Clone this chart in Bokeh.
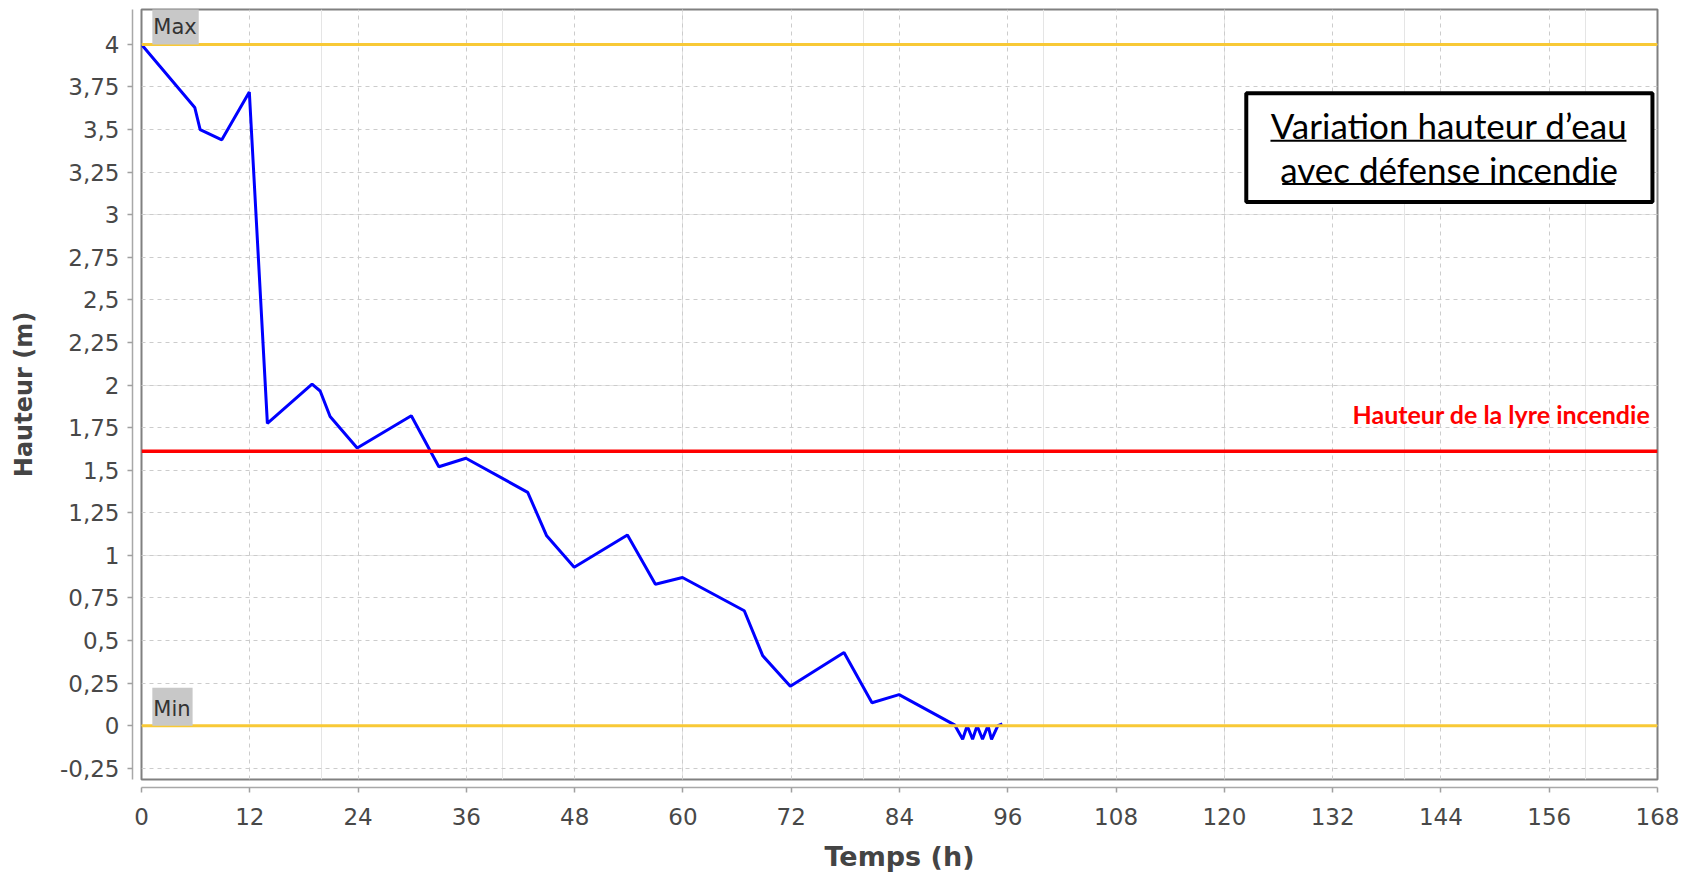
from bokeh.plotting import figure
from bokeh.models import LinearAxis, FixedTicker, Grid, Span, Label, BoxAnnotation
from bokeh.embed import file_html
from bokeh.resources import INLINE

# ---------------- data ----------------
hours = [0, 5.9, 6.5, 8.9, 11.95, 13.95, 18.9, 19.8, 20.9, 23.9, 29.9, 32.95,
         35.95, 42.8, 44.9, 47.95, 53.85, 56.95, 59.95, 66.8, 68.85, 71.9,
         77.85, 80.95, 83.95, 90.1, 91.0, 91.5, 92.1, 92.6, 93.2, 93.8, 94.2,
         94.9, 95.4]
heights = [4.0, 3.63, 3.50, 3.44, 3.72, 1.775, 2.005, 1.965, 1.815, 1.63, 1.82,
           1.52, 1.57, 1.37, 1.115, 0.93, 1.12, 0.83, 0.87, 0.675, 0.41, 0.232,
           0.43, 0.135, 0.182, 0.005, -0.08, 0.0, -0.08, 0.0, -0.08, 0.0, -0.08,
           0.0, 0.01]

x_ticks = [0, 12, 24, 36, 48, 60, 72, 84, 96, 108, 120, 132, 144, 156, 168]
y_ticks = [-0.25, 0.0, 0.25, 0.5, 0.75, 1.0, 1.25, 1.5, 1.75, 2.0, 2.25, 2.5,
           2.75, 3.0, 3.25, 3.5, 3.75, 4.0]
y_tick_labels = ["-0,25", "0", "0,25", "0,5", "0,75", "1", "1,25", "1,5",
                 "1,75", "2", "2,25", "2,5", "2,75", "3", "3,25", "3,5",
                 "3,75", "4"]

max_level = 4.0
min_level = 0.0
lyre_level = 1.612

# ---------------- figure ----------------
p = figure(width=1690, height=874, x_range=(0, 168), y_range=(-0.316, 4.205),
           x_axis_location=None, y_axis_location=None,
           output_backend="svg", toolbar_location=None,
           min_border_left=141, min_border_right=33, min_border_top=9,
           min_border_bottom=93,
           background_fill_color="white", border_fill_color="white",
           outline_line_color="#808080", outline_line_width=2)


def spacer(n, at):
    # invisible axis (one zero-length tick, empty label) that only reserves
    # n pixels between the frame and the real axis line
    return LinearAxis(ticker=FixedTicker(ticks=[at]),
                      major_label_overrides={at: "", f"{at:g}": ""},
                      major_label_text_font_size="1px",
                      major_tick_in=-n, major_tick_out=n,
                      major_tick_line_color="#a0a0a0",
                      axis_line_color=None, minor_tick_line_color=None,
                      major_label_standoff=0)


p.add_layout(spacer(9, 2.0), "left")
p.add_layout(spacer(8, 84), "below")

overrides = {}
for t, s in zip(y_ticks, y_tick_labels):
    overrides[t] = s
    overrides[f"{t:g}"] = s

axis_style = dict(axis_line_color="#a8a8a8", axis_line_width=1.5,
                  major_tick_line_color="#a0a0a0", major_tick_line_width=1.5,
                  major_tick_in=0, major_tick_out=5,
                  minor_tick_line_color=None,
                  major_label_text_font="DejaVu Sans",
                  major_label_text_font_size="23px",
                  major_label_text_color="#484848",
                  axis_label_text_font="DejaVu Sans",
                  axis_label_text_font_style="bold",
                  axis_label_text_color="#444444")

yaxis = LinearAxis(ticker=FixedTicker(ticks=y_ticks),
                   major_label_overrides=overrides,
                   axis_label="Hauteur (m)",
                   axis_label_text_font_size="24px",
                   major_label_standoff=8,
                   axis_label_standoff=19, **axis_style)
p.add_layout(yaxis, "left")

xaxis = LinearAxis(ticker=FixedTicker(ticks=x_ticks),
                   axis_label="Temps (h)",
                   axis_label_text_font_size="27px",
                   major_label_standoff=15,
                   axis_label_standoff=13, **axis_style)
p.add_layout(xaxis, "below")

p.add_layout(Grid(dimension=0, ticker=FixedTicker(ticks=x_ticks),
                  grid_line_color="#cccccc", grid_line_dash="4 4",
                  grid_line_width=1))
p.add_layout(Grid(dimension=1, ticker=FixedTicker(ticks=y_ticks),
                  grid_line_color="#cccccc", grid_line_dash="4 4",
                  grid_line_width=1))

# water level
p.line(hours, heights, line_color="#0000ff", line_width=3)

# reference levels
p.add_layout(Span(location=max_level, dimension="width",
                  line_color="#f8c936", line_width=3))
p.add_layout(Span(location=min_level, dimension="width",
                  line_color="#f8c936", line_width=3))
p.add_layout(Span(location=lyre_level, dimension="width",
                  line_color="#ff0000", line_width=3.5))

lbl_style = dict(text_baseline="bottom", background_fill_color="#c8c8c8",
                 text_font="DejaVu Sans", text_font_size="21px",
                 text_color="#333333",
                 padding=dict(left=1, right=2, top=9, bottom=5))
p.add_layout(Label(x=1.2, y=max_level, text="Max", **lbl_style))
p.add_layout(Label(x=1.2, y=min_level, text="Min", **lbl_style))

p.add_layout(Label(x=167.2, y=1.8284, text="Hauteur de la lyre incendie",
                   text_align="right", text_baseline="alphabetic",
                   text_font="Lato", text_font_style="bold",
                   text_font_size="25px", text_color="#ff0000"))

# title box
p.add_layout(BoxAnnotation(left=122.43, right=167.44, top=3.713, bottom=3.075,
                           fill_color="white", fill_alpha=1.0,
                           line_color="black", line_width=4, line_alpha=1.0))
title_style = dict(text_align="center", text_baseline="alphabetic",
                   text_font="Lato", text_font_size="35px",
                   text_color="black")
p.add_layout(Label(x=144.9, y=3.5265, text="Variation hauteur d\u2019eau",
                   **title_style))
p.add_layout(Label(x=144.9, y=3.2670, text="avec d\u00e9fense incendie",
                   **title_style))
p.add_layout(BoxAnnotation(left=125.11, right=164.56, top=3.4407, bottom=3.4290,
                           fill_color="black", fill_alpha=1.0, line_color=None))
p.add_layout(BoxAnnotation(left=126.41, right=163.26, top=3.1859, bottom=3.1742,
                           fill_color="black", fill_alpha=1.0, line_color=None))

open("out.html", "w").write(file_html(p, INLINE))
